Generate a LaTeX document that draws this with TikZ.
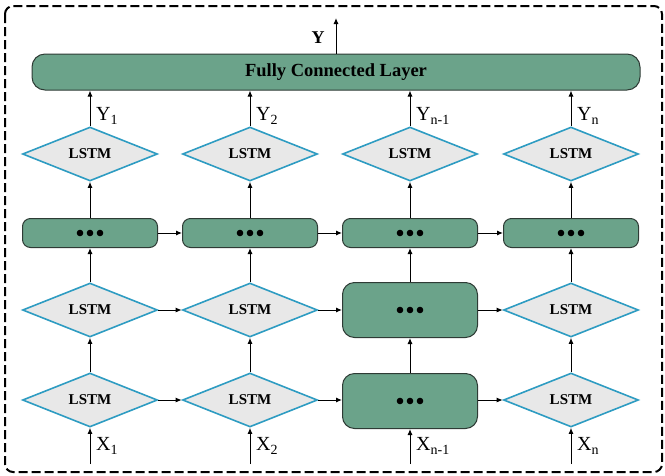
\documentclass[tikz,border=0pt]{standalone}
\usepackage{fontspec}
\setmainfont{Liberation Serif}
\usetikzlibrary{shapes.geometric,arrows.meta}
\definecolor{boxgreen}{HTML}{6BA38A}
\definecolor{boxedge}{HTML}{2E3B35}
\definecolor{lstmedge}{HTML}{2E9CC2}
\definecolor{lstmfill}{HTML}{E8E8E8}
\begin{document}
\begin{tikzpicture}[x=1pt,y=-1pt,
  lstm/.style={diamond,draw=lstmedge,line width=1.6pt,fill=lstmfill,minimum width=135pt,minimum height=54pt,inner sep=0pt,font=\fontsize{15}{16}\selectfont\bfseries},
  dotbox/.style={rectangle,rounded corners=8pt,draw=boxedge,line width=1pt,fill=boxgreen,minimum width=135pt,minimum height=29pt,inner sep=0pt},
  bigbox/.style={rectangle,rounded corners=12pt,draw=boxedge,line width=1pt,fill=boxgreen,minimum width=135pt,minimum height=55pt,inner sep=0pt},
  fc/.style={rectangle,rounded corners=13pt,draw=boxedge,line width=1pt,fill=boxgreen,minimum width=608pt,minimum height=36pt,inner sep=0pt,font=\fontsize{18.5}{20}\selectfont\bfseries},
  arr/.style={-{Latex[length=6pt,width=5pt]},line width=1pt,black},
  lab/.style={font=\fontsize{20}{22}\selectfont,inner sep=0pt,anchor=west}
]
\useasboundingbox (0,0) rectangle (665,475);
\draw[line width=2pt,dash pattern=on 9pt off 4pt,rounded corners=8pt] (5,6) rectangle (662,472);
\newcommand{\dotsmark}{\tikz[baseline=-3pt,x=1pt,y=1pt]{\fill (0,0) circle (3.3pt); \fill (10,0) circle (3.3pt); \fill (20,0) circle (3.3pt);}}
% fully connected
\node[fc] (fc) at (336,72) {Fully Connected Layer};
\coordinate (yout) at (336,18);
\draw[arr] (fc.north -| yout) -- (yout);
\node[font=\fontsize{18}{20}\selectfont\bfseries] (ylab) at (318,38) {Y};
% top LSTM row
\node[lstm] (t1) at (90,154) {LSTM};
\node[lstm] (t2) at (250,154) {LSTM};
\node[lstm] (t3) at (410,154) {LSTM};
\node[lstm] (t4) at (571,154) {LSTM};
% dot boxes row
\node[dotbox] (d1) at (90,233) {\dotsmark};
\node[dotbox] (d2) at (250,233) {\dotsmark};
\node[dotbox] (d3) at (410,233) {\dotsmark};
\node[dotbox] (d4) at (571,233) {\dotsmark};
% middle row
\node[lstm] (m1) at (90,310) {LSTM};
\node[lstm] (m2) at (250,310) {LSTM};
\node[bigbox] (m3) at (410,310) {\dotsmark};
\node[lstm] (m4) at (571,310) {LSTM};
% bottom row
\node[lstm] (b1) at (90,400) {LSTM};
\node[lstm] (b2) at (250,400) {LSTM};
\node[bigbox] (b3) at (410,401) {\dotsmark};
\node[lstm] (b4) at (571,400) {LSTM};
% inputs
\foreach \i/\x in {1/90,2/250,3/410,4/571}{
  \coordinate (x\i) at (\x,464);
}
\draw[arr] (x1) -- (b1.south);
\draw[arr] (x2) -- (b2.south);
\draw[arr] (x3) -- (b3.south);
\draw[arr] (x4) -- (b4.south);
\node[lab] (lx1) at (96,446) {X\textsubscript{1}};
\node[lab] (lx2) at (256,446) {X\textsubscript{2}};
\node[lab] (lx3) at (416,446) {X\textsubscript{n-1}};
\node[lab] (lx4) at (577,446) {X\textsubscript{n}};
% vertical arrows
\foreach \c in {1,2,3,4}{
  \draw[arr] (b\c.north) -- (m\c.south);
  \draw[arr] (m\c.north) -- (d\c.south);
  \draw[arr] (d\c.north) -- (t\c.south);
  \draw[arr] (t\c.north) -- (t\c.north |- fc.south);
}
\node[lab] (ly1) at (96,116) {Y\textsubscript{1}};
\node[lab] (ly2) at (256,116) {Y\textsubscript{2}};
\node[lab] (ly3) at (416,116) {Y\textsubscript{n-1}};
\node[lab] (ly4) at (577,116) {Y\textsubscript{n}};
% horizontal arrows
\draw[arr] (d1.east) -- (d2.west);
\draw[arr] (d2.east) -- (d3.west);
\draw[arr] (d3.east) -- (d4.west);
\draw[arr] (m1.east) -- (m2.west);
\draw[arr] (m2.east) -- (m3.west);
\draw[arr] (m3.east) -- (m4.west);
\draw[arr] (b1.east) -- (b2.west);
\draw[arr] (b2.east) -- (b3.west |- b2.east);
\draw[arr] (b3.east |- b4.west) -- (b4.west);
\end{tikzpicture}
\end{document}
